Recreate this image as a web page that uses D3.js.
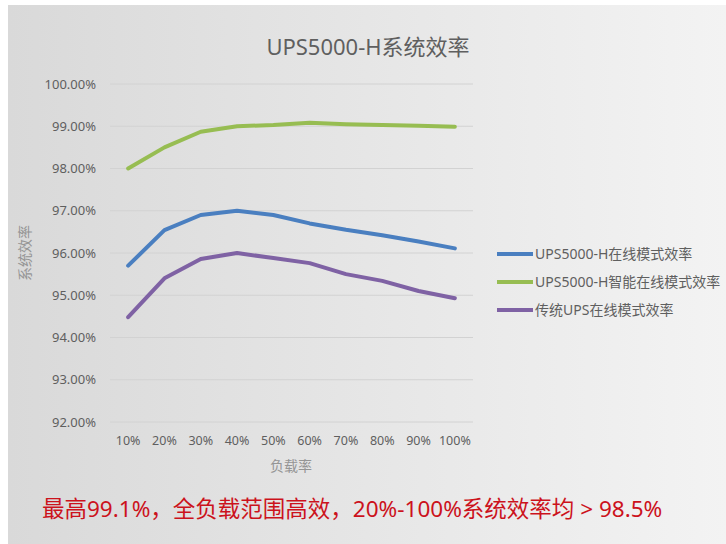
<!DOCTYPE html>
<html><head><meta charset="utf-8">
<script src="https://cdn.jsdelivr.net/npm/d3@7"></script>
<style>
html,body{margin:0;padding:0;background:#fff;}
svg{display:block;}
text{font-family:"Noto Sans","Noto Sans CJK SC",sans-serif;}
</style></head>
<body>
<svg id="chart" width="726" height="544"></svg>
<script>
const categories = ["10%","20%","30%","40%","50%","60%","70%","80%","90%","100%"];
const seriesNames = ["UPS5000-H在线模式效率","UPS5000-H智能在线模式效率","传统UPS在线模式效率"];
const onlineValues = [95.70,96.54,96.90,97.00,96.90,96.70,96.55,96.42,96.27,96.11];
const smartValues  = [98.00,98.50,98.87,99.00,99.03,99.08,99.05,99.03,99.01,98.99];
const legacyValues = [94.48,95.40,95.86,96.00,95.88,95.76,95.50,95.34,95.10,94.93];
const yTicks = [92,93,94,95,96,97,98,99,100];
const seriesColors = ["#4a7fc0","#97bd52","#7f62a4"];
const title = "UPS5000-H系统效率";
const xTitle = "负载率";
const yTitle = "系统效率";
const note = "最高99.1%，全负载范围高效，20%-100%系统效率均 > 98.5%";

const svg = d3.select("#chart");
const defs = svg.append("defs");
const grad = defs.append("linearGradient").attr("id","bg").attr("x1","0").attr("x2","1").attr("y1","0").attr("y2","0");
grad.append("stop").attr("offset","0").attr("stop-color","#d9d9d9");
grad.append("stop").attr("offset","1").attr("stop-color","#f3f3f3");
svg.append("rect").attr("x",8).attr("y",5).attr("width",718).attr("height",539).attr("fill","url(#bg)");

const x = d3.scaleBand().domain(categories).range([110,473]);
const y = d3.scaleLinear().domain([92,100]).range([422,84]);

// gridlines
svg.append("g").selectAll("line").data(yTicks).join("line")
  .attr("x1",110).attr("x2",473)
  .attr("y1",d=>y(d)).attr("y2",d=>y(d))
  .attr("stroke","#d2d2d2").attr("stroke-width",1);

// y axis labels
const yAxis = d3.axisLeft(y).tickValues(yTicks).tickFormat(d=>d.toFixed(2)+"%").tickSize(0).tickPadding(0);
const gy = svg.append("g").attr("transform","translate(96,0)").call(yAxis);
gy.select(".domain").remove();
gy.selectAll("text").attr("font-size",13).attr("fill","#5f5f5f").attr("font-family","'Noto Sans',sans-serif");

// x axis labels
const xAxis = d3.axisBottom(x).tickSize(0).tickPadding(0);
const gx = svg.append("g").attr("transform","translate(0,436)").call(xAxis);
gx.select(".domain").remove();
gx.selectAll("text").attr("font-size",12.5).attr("fill","#5f5f5f").attr("font-family","'Noto Sans',sans-serif");

// lines
const data = [onlineValues, smartValues, legacyValues];
const line = d3.line().x((d,i)=>x(categories[i])+x.bandwidth()/2).y(d=>y(d));
svg.append("g").selectAll("path").data(data).join("path")
  .attr("d",line).attr("fill","none")
  .attr("stroke",(d,i)=>seriesColors[i]).attr("stroke-width",4)
  .attr("stroke-linecap","round").attr("stroke-linejoin","round");

// title
svg.append("text").attr("x",368).attr("y",55).attr("text-anchor","middle")
  .attr("font-size",22).attr("fill","#5f5f5f").text(title);

// axis titles
svg.append("text").attr("x",291).attr("y",471).attr("text-anchor","middle")
  .attr("font-size",14).attr("fill","#959595").text(xTitle);
svg.append("text").attr("transform","translate(30,253) rotate(-90)").attr("text-anchor","middle")
  .attr("font-size",14).attr("fill","#959595").text(yTitle);

// legend
const lg = svg.append("g").selectAll("g").data(seriesNames).join("g")
  .attr("transform",(d,i)=>`translate(497,${254 + i*28})`);
lg.append("line").attr("x1",0).attr("x2",36).attr("y1",0).attr("y2",0)
  .attr("stroke",(d,i)=>seriesColors[i]).attr("stroke-width",4);
lg.append("text").attr("x",38).attr("y",5).attr("font-size",14).attr("fill","#5f5f5f").text(d=>d);

// note
svg.append("text").attr("x",42).attr("y",517).attr("font-size",22.5).attr("fill","#cc121c").text(note);
</script>
</body></html>
